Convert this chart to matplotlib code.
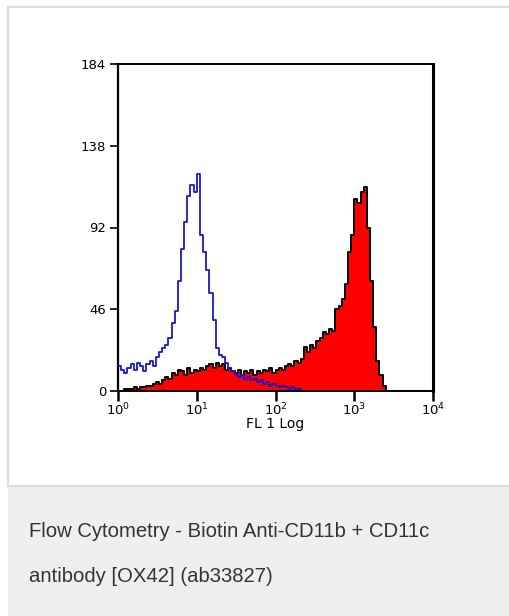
import numpy as np
import matplotlib as mpl
mpl.use('Agg')
import matplotlib.pyplot as plt
from matplotlib.patches import Rectangle

# channel grid in log10 units (FL 1 Log, 4 decades), 0.04 per bin
log_edges = np.linspace(0, 4, 101)

# isotype control (blue outline), counts per bin
blue_counts = [14, 12, 10, 13, 15, 12, 16, 14, 11, 15,
               17, 14, 19, 22, 24, 26, 30, 38, 45, 62,
               80, 95, 110, 116, 112, 122, 88, 78, 68, 55,
               40, 24, 20, 19, 16, 13, 11, 9, 8, 9,
               7, 8, 6, 7, 5, 6, 4, 5, 3, 4,
               3, 2, 3, 2, 1, 2, 1, 1, 0, 0,
               0, 0, 0, 0, 0, 0, 0, 0, 0, 0,
               0, 0, 0, 0, 0, 0, 0, 0, 0, 0,
               0, 0, 0, 0, 0, 0, 0, 0, 0, 0,
               0, 0, 0, 0, 0, 0, 0, 0, 0, 0]

# stained sample (red fill, black outline)
red_counts = [0, 0, 1, 1, 1, 2, 1, 2, 2, 3,
              3, 4, 5, 4, 6, 8, 7, 10, 9, 12,
              11, 9, 13, 10, 12, 11, 13, 12, 14, 15,
              13, 16, 14, 15, 12, 13, 11, 10, 12, 9,
              11, 10, 12, 9, 11, 10, 12, 11, 13, 10,
              12, 13, 12, 14, 15, 14, 17, 16, 18, 25,
              22, 26, 24, 28, 30, 33, 32, 35, 34, 46,
              48, 52, 60, 78, 88, 108, 106, 112, 115, 92,
              62, 36, 17, 9, 3, 0, 0, 0, 0, 0,
              0, 0, 0, 0, 0, 0, 0, 0, 0, 0]

y_ticks = [0, 46, 92, 138, 184]
x_tick_labels = ['$10^0$', '$10^1$', '$10^2$', '$10^3$', '$10^4$']

caption_1 = 'Flow Cytometry - Biotin Anti-CD11b + CD11c'
caption_2 = 'antibody [OX42] (ab33827)'

fig = plt.figure(figsize=(5.09, 6.16), dpi=100)

# card background + grey caption panel
W, H = 509, 616
fig.patches.append(Rectangle((8 / W, (H - 486) / H), 1.0, 479 / H, transform=fig.transFigure,
                             facecolor='white', edgecolor='#dcdcdc', linewidth=1.6, zorder=-2))
fig.patches.append(Rectangle((8 / W, 0), 1.0, (H - 487) / H, transform=fig.transFigure,
                             facecolor='#eeefef', edgecolor='none', zorder=-2))

ax = fig.add_axes([118 / W, 225 / H, 315 / W, 327 / H])
ax.set_zorder(2)
ax.patch.set_alpha(0)

x_edges = 10 ** log_edges
xr = np.append(red_counts, red_counts[-1])
xb = np.append(blue_counts, blue_counts[-1])

ax.fill_between(x_edges, 0, xr, step='post', color='#ff0000', linewidth=0, zorder=2)
ax.step(x_edges, xr, where='post', color='black', linewidth=1.4, zorder=3)
ax.step(x_edges, xb, where='post', color='#1818c8', linewidth=1.3, zorder=4)

ax.set_xscale('log')
ax.set_xlim(1, 1e4)
ax.set_ylim(0, 184)
ax.set_xticks([1, 10, 100, 1000, 10000])
ax.set_xticklabels(x_tick_labels)
ax.xaxis.set_minor_locator(mpl.ticker.NullLocator())
ax.set_yticks(y_ticks)
ax.set_yticklabels([str(v) for v in y_ticks])

for s in ax.spines.values():
    s.set_color('black')
    s.set_zorder(6)
ax.spines['left'].set_linewidth(1.6)
ax.spines['right'].set_linewidth(2.2)
ax.spines['top'].set_linewidth(1.4)
ax.spines['bottom'].set_linewidth(1.4)

ax.tick_params(axis='both', direction='out', length=6, width=1.2, labelsize=9.5,
               colors='black')
ax.tick_params(axis='y', pad=2.5)
ax.tick_params(axis='x', length=7, width=1.8, pad=1)
ax.set_xlabel('FL 1 Log', fontsize=10, labelpad=-1)

fig.text(29 / W, (H - 537) / H, caption_1, fontsize=14.6, family='Liberation Sans',
         color='#333333', va='baseline')
fig.text(29 / W, (H - 582) / H, caption_2, fontsize=14.6, family='Liberation Sans',
         color='#333333', va='baseline')

fig.savefig('out.png', dpi=100)
